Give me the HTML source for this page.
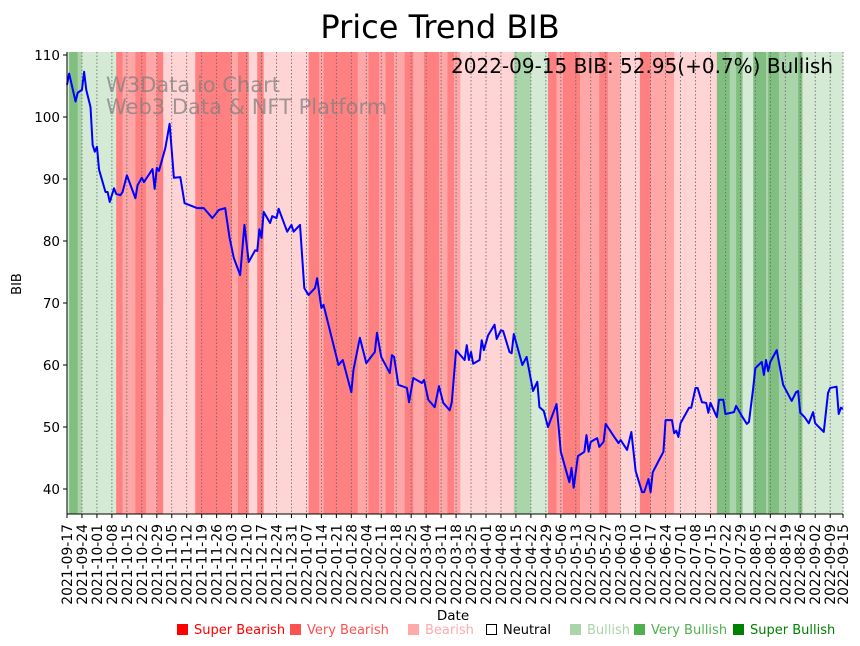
<!DOCTYPE html>
<html><head><meta charset="utf-8"><style>
body{margin:0;background:#fff;}
svg{display:block;font-family:"DejaVu Sans","Liberation Sans",sans-serif;}
</style></head><body>
<svg id="chart" width="860" height="646" viewBox="0 0 860 646" xmlns="http://www.w3.org/2000/svg">
<text x="440" y="38" text-anchor="middle" font-size="32" fill="#000">Price Trend BIB</text>
<g id="bands"></g>
<g id="grid"></g>
<g fill="#808080" fill-opacity="0.75" font-size="21">
<text x="106" y="92">W3Data.io Chart</text>
<text x="106" y="114">Web3 Data &amp; NFT Platform</text>
</g>
<text x="833" y="73" text-anchor="end" font-size="20" fill="#000">2022-09-15 BIB: 52.95(+0.7%) Bullish</text>
<path id="line" fill="none" stroke="#0000ff" stroke-width="2" stroke-linejoin="round"/>
<g id="yaxis"></g>
<g id="xaxis"></g>
<line x1="67" y1="52" x2="67" y2="514" stroke="#000" stroke-width="1"/>
<line x1="67" y1="514" x2="843" y2="514" stroke="#000" stroke-width="1"/>
<text x="453" y="620" text-anchor="middle" font-size="13.5">Date</text>
<text x="21" y="284" text-anchor="middle" font-size="13" transform="rotate(-90 21 284)">BIB</text>
<g id="legend" font-size="13"></g>
</svg>
<script>
const priceDays=[0,1,4,5,7,8,9,11,12,13,14,15,18,19,20,22,23,25,26,28,32,33,35,36,40,41,42,43,46,48,50,53,55,61,64,68,71,74,76,78,81,83,85,88,89,90,91,92,95,96,98,99,103,105,106,109,111,113,116,117,119,120,127,129,133,134,137,140,144,145,147,151,152,153,155,159,160,162,166,167,169,172,174,176,179,180,182,186,187,188,189,190,193,194,195,197,200,201,203,204,207,208,209,213,215,218,220,221,223,225,229,231,235,236,237,239,242,243,244,245,248,249,251,252,256,258,259,262,264,266,269,270,272,273,274,277,279,280,283,284,285,286,287,291,292,294,295,297,299,300,301,304,305,307,308,312,313,316,318,319,321,322,325,326,327,328,329,332,335,339,341,342,343,345,347,349,350,354,356,357,360,361,362,363];
const priceValues=[105.2,107.0,102.5,103.9,104.4,107.3,104.4,101.6,95.5,94.4,95.2,91.5,87.9,87.9,86.3,88.5,87.6,87.4,87.9,90.6,86.9,89.0,90.2,89.5,91.6,88.4,91.8,91.3,95.0,98.9,90.2,90.3,86.1,85.3,85.3,83.7,85.0,85.3,80.6,77.3,74.5,82.6,76.6,78.5,78.4,81.9,80.5,84.7,82.9,84.0,83.7,85.2,81.5,82.6,81.5,82.6,72.4,71.3,72.4,74.0,69.2,69.7,60.0,60.8,55.6,59.2,64.4,60.3,62.1,65.2,61.3,58.7,61.6,61.3,56.8,56.3,54.0,57.9,57.1,57.6,54.4,53.2,56.6,53.9,52.7,54.0,62.4,60.8,63.2,60.8,62.1,60.2,60.8,64.0,62.4,64.8,66.5,64.2,65.6,65.5,62.1,61.9,65.0,60.0,61.3,55.8,57.3,53.2,52.6,50.0,53.7,46.0,41.1,43.4,40.2,45.3,46.0,48.7,46.0,47.6,48.2,46.8,47.6,50.5,48.4,47.4,47.9,46.3,49.2,42.9,39.5,39.5,41.6,39.5,42.7,44.7,46.0,51.1,51.1,49.0,49.4,48.4,50.6,53.1,53.1,56.3,56.3,54.0,53.9,52.3,53.9,51.6,54.4,54.4,52.1,52.4,53.4,51.6,50.5,50.8,56.3,59.5,60.5,58.4,60.8,59.0,60.5,62.4,56.8,54.2,55.6,55.8,52.3,51.6,50.6,52.4,50.6,49.2,55.5,56.3,56.5,52.1,53.1,52.95];
const bandStarts=[0,1,5,7,23,26,32,37,42,45,60,77,80,85,89,92,113,118,120,136,141,146,149,153,158,162,167,174,178,181,184,209,217,225,229,232,240,249,253,259,268,273,284,304,310,313,316,321,327,328,333,342,344];
const bandLevels=[1,3,2,1,-3,-2,-3,-2,-3,-1,-3,-2,-3,-1,-3,-1,-3,-2,-3,-2,-3,-2,-3,-2,-3,-2,-3,-2,-3,-2,-1,2,1,-3,-2,-3,-2,-3,-2,-1,-3,-2,-1,3,2,3,1,3,2,3,2,3,1];
const yTicks=[40,50,60,70,80,90,100,110];
const startDate='2021-09-17';
const totalDays=363;
const legendLabels=['Super Bearish','Very Bearish','Bearish','Neutral','Bullish','Very Bullish','Super Bullish'];

const NS='http://www.w3.org/2000/svg';
const X0=67,X1=843,Y0=52,Y1=514;
const x=d=>X0+d*(X1-X0)/totalDays;
const y=v=>489-(v-40)*6.2;
const levelColor={'-3':'#ff8080','-2':'#ffa6a6','-1':'#ffd4d4','0':'#ffffff','1':'#d4ead4','2':'#aad4aa','3':'#80bf80'};
function mk(tag,attrs,parent){const e=document.createElementNS(NS,tag);for(const k in attrs)e.setAttribute(k,attrs[k]);parent.appendChild(e);return e;}

const bands=document.getElementById('bands');
for(let i=0;i<bandStarts.length;i++){
  const s=bandStarts[i],e=i+1<bandStarts.length?bandStarts[i+1]:totalDays;
  const r=mk('rect',{x:x(s),y:Y0,width:Math.max(0,x(e)-x(s))+0.3,height:Y1-Y0,fill:levelColor[bandLevels[i]]},bands);
  
  
}

let d='';
for(let i=0;i<priceDays.length;i++){d+=(i?'L':'M')+x(priceDays[i]).toFixed(2)+','+y(priceValues[i]).toFixed(2);}
document.getElementById('line').setAttribute('d',d);

const ya=document.getElementById('yaxis');
yTicks.forEach(v=>{
  const t=mk('line',{x1:X0-4,x2:X0,y1:y(v),y2:y(v),stroke:'#000'},ya);
  
  
  const l=mk('text',{x:X0-7,y:y(v)+5,'text-anchor':'end','font-size':13.5},ya);
  
  
  l.textContent=v;
});

const grid=document.getElementById('grid'),xa=document.getElementById('xaxis');
const sd=new Date(startDate+'T00:00:00Z');
const tickDays=[];for(let k=0;k<=totalDays;k+=7)tickDays.push(k);if(tickDays[tickDays.length-1]!==totalDays)tickDays.push(totalDays);
tickDays.forEach(k=>{
  const xx=x(k);
  const g=mk('line',{x1:xx,x2:xx,y1:Y0,y2:Y1,stroke:'#666','stroke-width':0.8,'stroke-dasharray':'1.5,2'},grid);
  
  
  const t=mk('line',{x1:xx,x2:xx,y1:Y1,y2:Y1+4,stroke:'#000'},xa);
  
  
  const dt=new Date(sd.getTime()+k*86400000);
  const lbl=dt.toISOString().slice(0,10);
  const tx=mk('text',{x:xx+5,y:Y1+10,'text-anchor':'end','font-size':13.9,transform:`rotate(-90 ${xx+5} ${Y1+10})`},xa);
  
  
  tx.textContent=lbl;
});

const leg=document.getElementById('legend');
const legX=[177,290,408,486,570,634,733];
const legCol=['#ff0000','#ff5050','#ffaaaa','#000000','#aad4aa','#50b050','#008000'];
legendLabels.forEach((s,i)=>{
  const g=mk('g',{},leg);
  
  
  if(i===3)mk('rect',{x:legX[i]+0.5,y:624.5,width:10,height:10,fill:'#fff',stroke:'#000'},g);
  else mk('rect',{x:legX[i],y:624,width:11,height:11,fill:legCol[i]},g);
  const t=mk('text',{x:legX[i]+17,y:634,fill:legCol[i]},g);
  t.textContent=s;
});
</script>
</body></html>
